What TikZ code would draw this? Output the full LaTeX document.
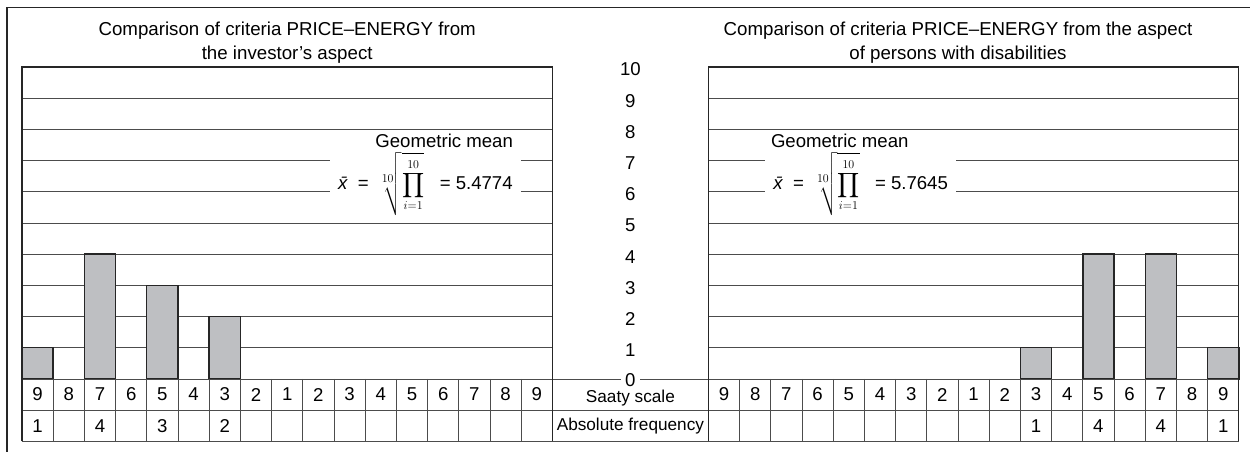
\documentclass[tikz,border=0pt]{standalone}
\usepackage{amsmath}
\usepackage{fontspec}
\setmainfont{Liberation Sans}
\DeclareMathSizes{18.6}{17}{13}{11}
\definecolor{barfill}{RGB}{190,191,194}
\newcommand{\gmean}[1]{{\itshape\=x}\ \ =\ \,$\sqrt[\scriptstyle 10]{\displaystyle\prod_{i=1}^{10}}$\ \ \ = #1}
\begin{document}
\begin{tikzpicture}
  [x=31.2pt,y=31.2pt,
   grid/.style = {draw=black!70, line width=0.9pt},
   border/.style = {draw=black!85, line width=1.2pt},
   frame/.style = {draw=black!85, line width=1.3pt},
   bar/.style = {fill=barfill, draw=black!85, line width=1.4pt},
   cell/.style = {font=\fontsize{18.6}{21}\selectfont, inner sep=0pt},
   rowname/.style = {font=\fontsize{17.2}{20}\selectfont, inner sep=0pt},
   level/.style = {font=\fontsize{18.6}{21}\selectfont, fill=white, inner sep=1pt},
   title/.style = {align=center, font=\fontsize{18.7}{24}\selectfont},
   formula/.style = {font=\fontsize{18.6}{21}\selectfont, inner xsep=8pt, inner ysep=0pt}]
  \useasboundingbox (-0.705,-2.34) rectangle (39.359,12.147);
  % outer frame, cut by the page edge
  \draw[frame] (-0.481,-2.4) -- (-0.481,11.907) -- (39.4,11.907);

  % titles
  \node[title] (tL) at (8.5,10.78) {Comparison of criteria PRICE–ENERGY from\\the investor's aspect};
  \node[title] (tR) at (30,10.78) {Comparison of criteria PRICE–ENERGY from the aspect\\of persons with disabilities};

  % left chart: investor
  \node[cell, anchor=east] (gL) at (15.74,7.62) {Geometric mean};
  \node[formula, anchor=east] (fL) at (15.99,6.25) {\gmean{5.4774}};
  \foreach \y in {1,2,3,4,5,8,9} \draw[grid] (0,\y) -- (17,\y);
  \foreach \y in {6,7} {
    \draw[grid] (0,\y) -- (fL.west |- 0,\y);
    \draw[grid] (fL.east |- 0,\y) -- (17,\y);
  }
  \foreach \c/\h in {0/1,2/4,4/3,6/2} \draw[bar] (\c,0) rectangle ++(1,\h);

  % right chart: persons with disabilities
  \node[cell, anchor=west] (gR) at (24.0,7.62) {Geometric mean};
  \node[formula, anchor=east] (fR) at (29.94,6.25) {\gmean{5.7645}};
  \foreach \y in {1,2,3,4,5,8,9} \draw[grid] (22,\y) -- (39,\y);
  \foreach \y in {6,7} {
    \draw[grid] (22,\y) -- (fR.west |- 0,\y);
    \draw[grid] (fR.east |- 0,\y) -- (39,\y);
  }
  \foreach \c/\h in {10/1,12/4,14/4,16/1} \draw[bar] (22+\c,0) rectangle ++(1,\h);

  % table below the charts
  \foreach \y in {0,-1,-2} \draw[grid] (0,\y) -- (39,\y);
  \foreach \x in {1,...,16,23,24,...,38} \draw[grid] (\x,0) -- (\x,-2);
  \draw[border] (0,-2) -- (0,10) -- (17,10) -- (17,-2);
  \draw[border] (22,-2) -- (22,10) -- (39,10) -- (39,-2);
  \foreach \n [count=\i from 0] in {9,8,7,6,5,4,3,2,1,2,3,4,5,6,7,8,9} {
    \node[cell] (sL\i) at (\i+0.5,-0.5) {\n};
    \node[cell] (sR\i) at (\i+22.5,-0.5) {\n};
  }
  \foreach \c/\f in {0/1,2/4,4/3,6/2} \node[cell] (aL\c) at (\c+0.5,-1.5) {\f};
  \foreach \c/\f in {10/1,12/4,14/4,16/1} \node[cell] (aR\c) at (\c+22.5,-1.5) {\f};

  % middle scale
  \foreach \y in {1,...,10} \node[level] (lv\y) at (19.5,\y-0.08) {\y};
  \node[level, inner sep=0pt, inner xsep=4pt] (lv0) at (19.5,-0.02) {0};
  \node[rowname] (saaty) at (19.5,-0.6) {Saaty scale};
  \node[rowname] (absf) at (19.5,-1.5) {Absolute frequency};
\end{tikzpicture}
\end{document}
